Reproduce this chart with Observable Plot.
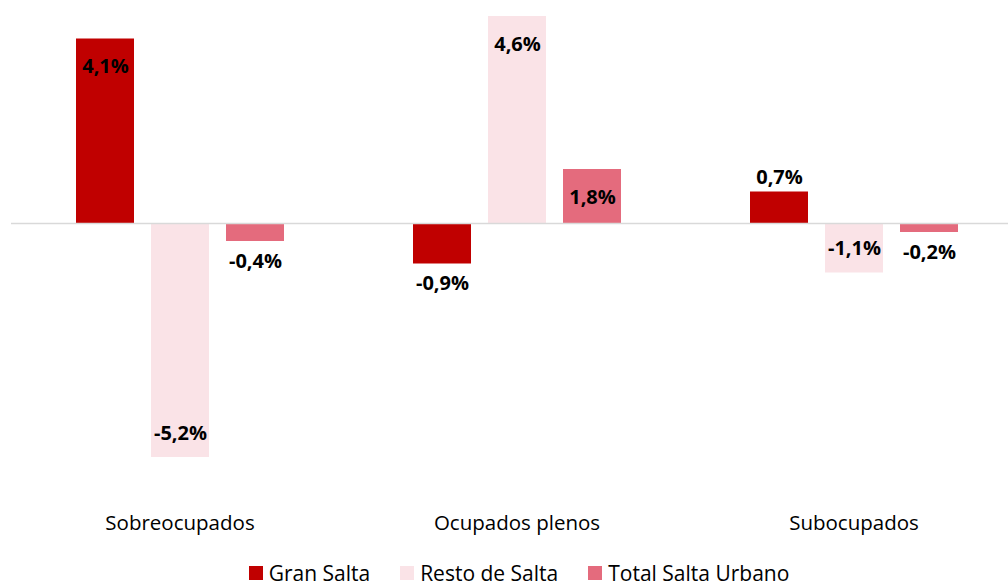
<!DOCTYPE html>
<html><head><meta charset="utf-8">
<script src="https://cdn.jsdelivr.net/npm/d3@7"></script>
<script src="https://cdn.jsdelivr.net/npm/@observablehq/plot@0.6"></script>
<style>
body{margin:0;background:#fff;font-family:"Open Sans",sans-serif;overflow:hidden;}
#legend{display:flex;justify-content:center;align-items:center;gap:30px;font-size:21px;line-height:24px;color:#000;margin-top:16px;padding-left:30px;}
.item{display:flex;align-items:center;gap:6px;}
.sw{width:14px;height:14px;display:inline-block;}
</style></head>
<body>
<div id="chart"></div>
<div id="legend"></div>
<script>
const categories = ["Sobreocupados", "Ocupados plenos", "Subocupados"];
const series = ["Gran Salta", "Resto de Salta", "Total Salta Urbano"];
// bar heights as drawn in the picture
const granSalta = [4.1, -0.9, 0.7];
const restoSalta = [-5.2, 4.6, -1.1];
const totalSalta = [-0.4, 1.2, -0.2];
// data labels as printed in the picture
const granSaltaLabels = ["4,1%", "-0,9%", "0,7%"];
const restoSaltaLabels = ["-5,2%", "4,6%", "-1,1%"];
const totalSaltaLabels = ["-0,4%", "1,8%", "-0,2%"];
const colors = ["#C00000", "#FAE3E7", "#E46B7D"];

const seriesValues = [granSalta, restoSalta, totalSalta];
const seriesLabels = [granSaltaLabels, restoSaltaLabels, totalSaltaLabels];
const data = categories.flatMap((c, i) => series.map((s, j) => ({cat: c, serie: s, value: seriesValues[j][i], label: seriesLabels[j][i]})));
const inside = d => Math.abs(d.value) >= 1;

const labelStyle = {fx: "cat", x: "serie", y: "value", text: "label", fontWeight: "bold", fontSize: 20, fill: "#000"};

const chart = Plot.plot({
  width: 1008, height: 545,
  marginTop: 0, marginLeft: 0, marginRight: 0, marginBottom: 40,
  style: {fontFamily: "'Open Sans', sans-serif", background: "#fff"},
  fx: {domain: categories, range: [10.5, 1021.5], padding: 0, label: null},
  x: {domain: series, paddingInner: 0.227, paddingOuter: 0.86, axis: null},
  y: {domain: [-5.2, 4.6], range: [457, 16], axis: null},
  color: {domain: series, range: colors},
  marks: [
    Plot.barY(data, {fx: "cat", x: "serie", y: "value", fill: "serie"}),
    Plot.ruleY([0], {stroke: "#d9d9d9", strokeWidth: 1.5}),
    Plot.text(data, {...labelStyle, filter: d => inside(d) && d.value > 0, dy: 28}),
    Plot.text(data, {...labelStyle, filter: d => inside(d) && d.value < 0, dy: -24}),
    Plot.text(data, {...labelStyle, filter: d => !inside(d) && d.value > 0, dy: -14}),
    Plot.text(data, {...labelStyle, filter: d => !inside(d) && d.value < 0, dy: 20}),
    Plot.axisFx({anchor: "bottom", tickSize: 0, tickPadding: 10, fontSize: 20.5, label: null, fill: "#000"})
  ]
});
document.getElementById("chart").appendChild(chart);

const legend = document.getElementById("legend");
series.forEach((s, i) => {
  const it = document.createElement("div");
  it.className = "item";
  it.innerHTML = `<span class="sw" style="background:${colors[i]}"></span><span>${s}</span>`;
  legend.appendChild(it);
});
</script>
</body></html>
